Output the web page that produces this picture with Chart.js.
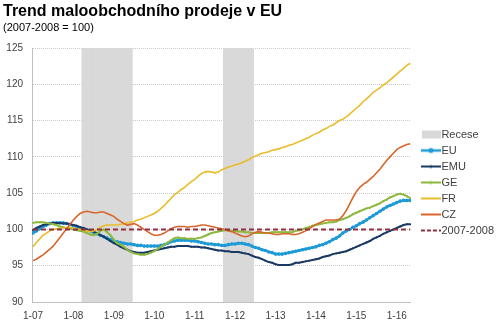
<!DOCTYPE html>
<html>
<head>
<meta charset="utf-8">
<script src="https://cdn.jsdelivr.net/npm/chart.js@4.4.1/dist/chart.umd.min.js"></script>
<style>
  html, body { margin: 0; padding: 0; background: #fff; }
  #wrap { width: 500px; height: 327px; }
</style>
</head>
<body>
<div id="wrap"><canvas id="chart"></canvas></div>
<script>
// x = month index, 0 = 1/2007
const xTickMonths = [0, 12, 24, 36, 48, 60, 72, 84, 96, 108];
const xTickLabels = ["1-07", "1-08", "1-09", "1-10", "1-11", "1-12", "1-13", "1-14", "1-15", "1-16"];
const yTicks = [90, 95, 100, 105, 110, 115, 120, 125];

// recession periods (first month, last month)
const recese = [[15, 29], [57, 65]];

// monthly values, one row per year (2016: Jan-May)
const eu = [
  99.5, 99.8, 100.1, 100.4, 100.6, 100.8, 100.9, 100.9, 100.9, 100.9, 100.8, 100.7,
  100.5, 100.4, 100.2, 100.1, 99.9, 99.8, 99.6, 99.4, 99.2, 99.0, 98.8, 98.6,
  98.4, 98.3, 98.2, 98.1, 98.0, 98.0, 97.9, 97.8, 97.8, 97.7, 97.7, 97.7,
  97.7, 97.7, 97.8, 97.9, 98.1, 98.3, 98.4, 98.5, 98.5, 98.5, 98.5, 98.4,
  98.4, 98.3, 98.2, 98.1, 98.0, 98.0, 97.9, 97.9, 97.8, 97.8, 97.9, 98.0,
  98.0, 98.1, 98.1, 98.0, 97.9, 97.7, 97.5, 97.4, 97.2, 97.1, 96.9, 96.8,
  96.6, 96.6, 96.6, 96.7, 96.8, 96.9, 97.0, 97.1, 97.2, 97.3, 97.4, 97.5,
  97.6, 97.8, 97.9, 98.1, 98.3, 98.6, 98.8, 99.1, 99.5, 99.8, 100.0, 100.3,
  100.5, 100.8, 101.0, 101.3, 101.6, 101.9, 102.2, 102.5, 102.8, 103.1, 103.3, 103.5,
  103.7, 103.9, 104.0, 104.0, 104.0
];
const emu = [
  99.9, 100.2, 100.4, 100.6, 100.7, 100.8, 100.9, 100.9, 100.9, 100.8, 100.8, 100.7,
  100.6, 100.5, 100.3, 100.2, 100.0, 99.9, 99.7, 99.5, 99.2, 99.0, 98.7, 98.4,
  98.1, 97.9, 97.6, 97.4, 97.2, 97.0, 96.9, 96.8, 96.8, 96.8, 96.9, 97.0,
  97.1, 97.2, 97.3, 97.4, 97.5, 97.6, 97.6, 97.7, 97.7, 97.7, 97.7, 97.6,
  97.6, 97.6, 97.5, 97.5, 97.4, 97.3, 97.2, 97.1, 97.1, 97.0, 97.0, 96.9,
  96.9, 96.9, 96.8, 96.7, 96.6, 96.4, 96.2, 96.1, 95.9, 95.7, 95.5, 95.4,
  95.2, 95.1, 95.1, 95.1, 95.1, 95.2, 95.4, 95.4, 95.5, 95.6, 95.7, 95.8,
  95.9, 96.0, 96.2, 96.3, 96.4, 96.6, 96.7, 96.8, 96.9, 97.0, 97.2, 97.4,
  97.6, 97.8, 98.0, 98.2, 98.4, 98.7, 98.9, 99.1, 99.4, 99.6, 99.8, 100.0,
  100.2, 100.4, 100.6, 100.7, 100.7
];
const ge = [
  100.9, 101.0, 101.0, 101.0, 100.9, 100.8, 100.7, 100.6, 100.4, 100.3, 100.2, 100.1,
  100.0, 99.9, 99.8, 99.7, 99.5, 99.3, 99.2, 99.4, 99.8, 100.0, 99.6, 99.2,
  98.6, 98.1, 97.9, 97.6, 97.2, 96.9, 96.7, 96.6, 96.5, 96.5, 96.6, 96.8,
  97.0, 97.3, 97.6, 97.9, 98.2, 98.5, 98.8, 98.9, 98.8, 98.8, 98.7, 98.7,
  98.7, 98.8, 98.9, 99.1, 99.3, 99.5, 99.6, 99.7, 99.8, 99.9, 99.9, 99.8,
  99.8, 99.7, 99.7, 99.6, 99.6, 99.5, 99.5, 99.5, 99.5, 99.5, 99.5, 99.6,
  99.6, 99.6, 99.6, 99.6, 99.6, 99.6, 99.8, 99.9, 100.0, 100.2, 100.3, 100.5,
  100.6, 100.7, 100.8, 100.9, 101.0, 101.0, 101.1, 101.3, 101.4, 101.6, 101.8, 102.1,
  102.3, 102.5, 102.7, 102.9, 103.0, 103.2, 103.4, 103.6, 103.9, 104.1, 104.4, 104.6,
  104.8, 104.9, 104.8, 104.6, 104.3
];
const fr = [
  97.6, 98.2, 98.7, 99.2, 99.5, 99.8, 100.0, 100.1, 100.2, 100.2, 100.2, 100.3,
  100.2, 100.1, 100.0, 99.9, 99.8, 99.7, 99.8, 100.0, 100.3, 100.5, 100.6, 100.6,
  100.6, 100.6, 100.7, 100.8, 100.9, 101.0, 101.1, 101.3, 101.4, 101.6, 101.8, 102.0,
  102.2, 102.5, 102.9, 103.3, 103.8, 104.3, 104.8, 105.1, 105.5, 105.8, 106.2, 106.6,
  106.9, 107.3, 107.7, 107.9, 108.0, 107.9, 107.8, 107.9, 108.2, 108.4, 108.6, 108.7,
  108.9, 109.0, 109.2, 109.4, 109.6, 109.9, 110.1, 110.3, 110.5, 110.6, 110.7, 110.9,
  111.0, 111.1, 111.3, 111.4, 111.6, 111.7, 111.9, 112.1, 112.3, 112.5, 112.7, 113.0,
  113.2, 113.4, 113.7, 113.9, 114.2, 114.4, 114.7, 115.0, 115.2, 115.5, 115.9, 116.3,
  116.7, 117.1, 117.6, 118.0, 118.4, 118.9, 119.2, 119.5, 119.9, 120.2, 120.6, 121.0,
  121.4, 121.8, 122.2, 122.6, 122.9
];
const cz = [
  95.7, 95.9, 96.2, 96.5, 96.9, 97.3, 97.7, 98.3, 98.9, 99.5, 100.1, 100.7,
  101.3, 101.8, 102.2, 102.4, 102.5, 102.4, 102.3, 102.3, 102.4, 102.4, 102.2, 102.0,
  101.8, 101.4, 101.1, 100.8, 100.6, 100.7, 100.8, 100.6, 100.3, 100.0, 99.7, 99.4,
  99.2, 99.2, 99.3, 99.5, 99.8, 100.1, 100.3, 100.4, 100.4, 100.4, 100.3, 100.4,
  100.4, 100.5, 100.6, 100.6, 100.5, 100.4, 100.3, 100.2, 100.1, 100.0, 99.8, 99.7,
  99.5, 99.3, 99.1, 99.0, 99.1, 99.4, 99.6, 99.7, 99.6, 99.5, 99.5, 99.4,
  99.3, 99.3, 99.4, 99.4, 99.4, 99.3, 99.3, 99.4, 99.6, 99.8, 100.1, 100.4,
  100.7, 100.9, 101.1, 101.3, 101.3, 101.3, 101.3, 101.4, 101.9, 102.6, 103.5, 104.4,
  105.2, 105.8, 106.2, 106.5, 106.9, 107.3, 107.8, 108.3, 108.9, 109.5, 110.0, 110.5,
  111.0, 111.3, 111.5, 111.7, 111.8
];
// 2007-2008 average = 100, drawn over the whole period
const baseMonths = [0, 112];
const baseValues = [100, 100];

const FONT = "'Liberation Sans', Arial, sans-serif";

const pts = arr => arr.map((v, i) => ({ x: i, y: v }));

const receseBars = [];
recese.forEach(([a, b]) => {
  for (let m = a; m <= b; m++) receseBars.push({ x: m, y: [90, 125] });
});

// legend symbols: small canvases, like the Excel legend keys
function legendIcon(draw) {
  const c = document.createElement("canvas");
  c.width = 30; c.height = 10;
  const g = c.getContext("2d");
  draw(g);
  return c;
}
function lineIcon(color, width, dash, marker) {
  return legendIcon(g => {
    g.strokeStyle = color;
    g.lineWidth = width;
    g.setLineDash(dash || []);
    g.beginPath(); g.moveTo(10, 5); g.lineTo(30, 5); g.stroke();
    if (marker) {
      g.fillStyle = color;
      g.beginPath(); g.arc(20, 5, marker, 0, Math.PI * 2); g.fill();
    }
  });
}

const datasets = [
  {
    type: "bar", label: "Recese", data: receseBars,
    backgroundColor: "#d9d9d9", borderWidth: 0,
    barPercentage: 1, categoryPercentage: 1, order: 10,
    icon: legendIcon(g => { g.fillStyle = "#d9d9d9"; g.fillRect(11, 1, 19, 8); })
  },
  {
    label: "EU", data: pts(eu), borderColor: "#1e9ad6", backgroundColor: "#1e9ad6",
    borderWidth: 2.5, pointRadius: 1.8, pointBorderWidth: 0, order: 6,
    icon: lineIcon("#1e9ad6", 2.5, null, 2.5)
  },
  {
    label: "EMU", data: pts(emu), borderColor: "#1b3a63", backgroundColor: "#1b3a63",
    borderWidth: 2, pointRadius: 1, pointBorderWidth: 0, order: 5,
    icon: lineIcon("#1b3a63", 2, null, 1.5)
  },
  {
    label: "GE", data: pts(ge), borderColor: "#8db83d", backgroundColor: "#8db83d",
    borderWidth: 2, pointRadius: 1, pointBorderWidth: 0, order: 4,
    icon: lineIcon("#8db83d", 2, null, 1.5)
  },
  {
    label: "FR", data: pts(fr), borderColor: "#e9bc2a", backgroundColor: "#e9bc2a",
    borderWidth: 1.6, pointRadius: 0, order: 3,
    icon: lineIcon("#e9bc2a", 2)
  },
  {
    label: "CZ", data: pts(cz), borderColor: "#d8662c", backgroundColor: "#d8662c",
    borderWidth: 1.6, pointRadius: 0, order: 2,
    icon: lineIcon("#d8662c", 2)
  },
  {
    label: "2007-2008", data: baseMonths.map((m, i) => ({ x: m, y: baseValues[i] })),
    borderColor: "#8e3040", borderWidth: 2, borderDash: [5, 3], pointRadius: 0, order: 1,
    icon: lineIcon("#8e3040", 2, [4, 2])
  }
];

new Chart(document.getElementById("chart"), {
  type: "line",
  data: { datasets: datasets },
  options: {
    responsive: true,
    maintainAspectRatio: false,
    animation: false,
    events: [],
    layout: { padding: { left: 3, right: -4, top: 0, bottom: 0 } },
    elements: { line: { tension: 0 } },
    plugins: {
      tooltip: { enabled: false },
      title: {
        display: true, text: "Trend maloobchodního prodeje v EU", align: "start",
        color: "#000", font: { family: FONT, size: 16, weight: "bold" },
        padding: { top: 2, bottom: 0 }
      },
      subtitle: {
        display: true, text: "(2007-2008 = 100)", align: "start",
        color: "#000", font: { family: FONT, size: 11 },
        padding: { top: 0, bottom: 13.6 }
      },
      legend: {
        position: "right",
        align: "center",
        title: { display: true, text: " ", font: { size: 1 }, padding: { top: 36.8, bottom: 0 } },
        labels: {
          usePointStyle: true,
          pointStyleWidth: 20,
          padding: 5,
          color: "#404040",
          font: { family: FONT, size: 11 },
          generateLabels: chart => chart.data.datasets.map((ds, i) => ({
            text: ds.label, pointStyle: ds.icon, datasetIndex: i,
            fillStyle: "transparent", strokeStyle: "transparent", lineWidth: 0,
            hidden: false, fontColor: "#404040"
          }))
        }
      }
    },
    scales: {
      x: {
        type: "linear", min: -0.3, max: 112.2,
        offset: false,
        afterBuildTicks: scale => { scale.ticks = xTickMonths.map(v => ({ value: v })); },
        afterFit: scale => { scale.height = 25; },
        ticks: {
          padding: 8, color: "#404040", font: { family: FONT, size: 10 },
          maxRotation: 0, autoSkip: false,
          callback: v => xTickLabels[xTickMonths.indexOf(v)]
        },
        grid: { display: false, drawTicks: false, offset: false },
        border: { display: true, color: "#bfbfbf", width: 1 }
      },
      y: {
        min: 90, max: 125,
        afterBuildTicks: scale => { scale.ticks = yTicks.map(v => ({ value: v })); },
        afterFit: scale => { scale.width = 29; },
        ticks: { padding: 9, color: "#404040", font: { family: FONT, size: 10 } },
        grid: { color: "#c8c8c8", lineWidth: 1, drawTicks: false },
        border: { display: true, color: "#bfbfbf", width: 1, dash: [1, 1] }
      }
    }
  }
});
</script>
</body>
</html>
